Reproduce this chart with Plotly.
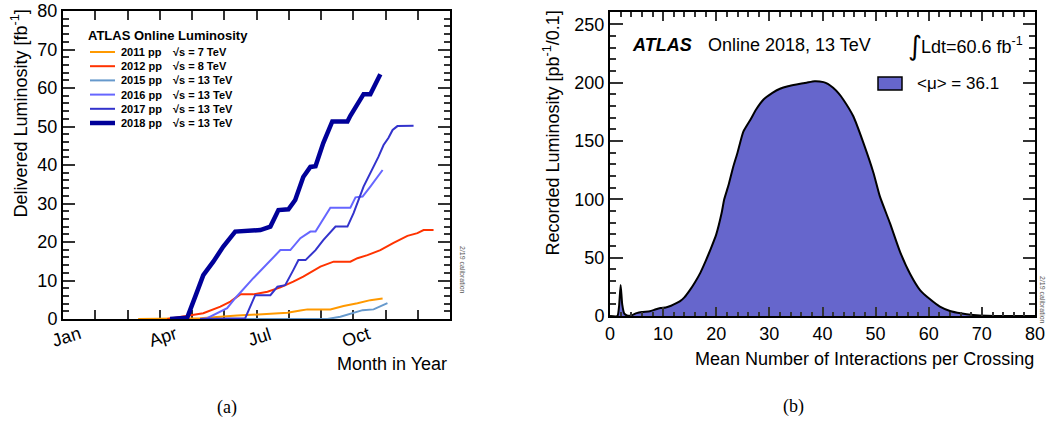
import plotly.graph_objects as go

# ---------------- data: left panel (cumulative delivered luminosity) ----------------
# x in fractional months since Jan 1, y in fb^-1
months_2011 = [2.33, 4.25, 5.40, 6.43, 6.96, 7.36, 7.58, 8.29, 8.70, 9.13, 9.53, 9.91]
lumi_2011 = [0.0, 0.2, 0.9, 1.3, 1.6, 2.2, 2.5, 2.5, 3.4, 4.1, 4.9, 5.3]

months_2012 = [3.23, 3.73, 4.35, 4.88, 5.19, 5.50, 5.90, 6.34, 6.74, 7.14, 7.45, 7.98,
               8.39, 8.91, 9.13, 9.44, 9.84, 10.25, 10.68, 10.99, 11.18, 11.49]
lumi_2012 = [0.0, 0.6, 1.5, 3.2, 4.5, 6.4, 6.4, 7.1, 8.2, 9.7, 11.0, 13.6,
             14.9, 14.9, 15.8, 16.6, 17.9, 19.8, 21.6, 22.3, 23.1, 23.1]

months_2015 = [5.19, 8.20, 8.60, 8.91, 9.29, 9.63, 9.84, 10.06]
lumi_2015 = [0.0, 0.0, 0.6, 1.3, 2.3, 2.5, 3.2, 4.1]

months_2016 = [4.25, 4.47, 5.09, 5.34, 5.90, 6.34, 6.74, 7.05, 7.36, 7.67, 7.83, 8.29,
               8.91, 9.07, 9.29, 9.53, 9.91]
lumi_2016 = [0.0, 0.2, 2.8, 5.4, 10.6, 14.5, 17.9, 17.9, 21.0, 22.7, 22.7, 28.9,
             28.9, 31.6, 31.8, 34.4, 38.7]

months_2017 = [4.25, 5.65, 5.96, 6.43, 6.65, 6.89, 7.14, 7.30, 7.52, 7.83, 8.07, 8.45,
               8.82, 9.01, 9.32, 9.53, 9.78, 9.94, 10.09, 10.22, 10.37, 10.87]
lumi_2017 = [0.0, 0.2, 6.2, 6.2, 8.4, 8.8, 12.7, 15.3, 15.3, 17.9, 20.5, 24.0,
             24.0, 27.5, 34.4, 37.8, 42.1, 45.2, 47.0, 49.1, 50.1, 50.2]

months_2018 = [3.32, 3.85, 4.10, 4.35, 4.66, 4.97, 5.34, 6.12, 6.43, 6.68, 6.99, 7.20,
               7.45, 7.67, 7.83, 8.07, 8.35, 8.82, 8.91, 9.13, 9.32, 9.53, 9.84]
lumi_2018 = [0.0, 0.3, 5.8, 11.4, 14.9, 18.8, 22.7, 23.1, 24.0, 28.3, 28.5, 30.9,
             36.9, 39.5, 39.7, 45.7, 51.3, 51.3, 52.8, 56.0, 58.4, 58.4, 63.6]

years = ["2011", "2012", "2015", "2016", "2017", "2018"]
energies = ["7", "8", "13", "13", "13", "13"]
series_months = [months_2011, months_2012, months_2015, months_2016, months_2017, months_2018]
series_lumi = [lumi_2011, lumi_2012, lumi_2015, lumi_2016, lumi_2017, lumi_2018]
colors = ["#FF9900", "#FF3300", "#6699CC", "#6666FF", "#3333CC", "#000099"]
widths = [2, 2, 2, 2, 2, 4.5]

month_tick_vals = [0, 3, 6, 9]
month_tick_text = ["Jan", "Apr", "Jul", "Oct"]

# ---------------- data: right panel (pile-up distribution) ----------------
mu_values = [0, 1.4, 1.7, 2.0, 2.3, 2.7, 3.2, 4.0, 5.0, 6.0, 7.5, 8.5, 9.5, 10.5, 11.5,
             12.5, 13.2, 14.0, 15.0, 16.0, 17.0, 18.0, 19.0, 20.0, 21.0, 21.5, 22.3,
             23.2, 24.0, 25.1, 26.4, 27.5, 28.9, 30.5, 32.0, 33.5, 35.1, 37.0, 38.5,
             40.2, 41.0, 42.0, 43.0, 43.9, 45.8, 47.7, 49.6, 50.8, 52.7, 54.6, 56.5,
             58.4, 60.2, 62.1, 64.0, 66.0, 68.4, 71.0, 75.0, 80.0]
mu_lumi = [0, 0, 8, 26.6, 10, 2, 0.5, 0.5, 2.5, 3.5, 4.0, 5.5, 6.8, 7.3, 8.8,
           11, 12.8, 16, 22, 29, 37, 47, 58, 70, 88, 100, 112,
           128, 140, 158, 168, 177, 185.6, 191, 194.8, 197, 198.5, 200, 201.3,
           200.5, 199, 195.6, 191, 185.6, 171.2, 148.4, 122.6, 102.5, 79.6, 55, 36,
           22, 14.5, 8, 4.3, 2.3, 0.9, 0.2, 0, 0]
mean_mu_label = "&lt;μ&gt; = 36.1"
int_lumi_label = "Ldt=60.6 fb<sup>-1</sup>"

# ---------------- figure ----------------
W, H = 1046, 421
FONT = "Liberation Sans, Arial, Helvetica, sans-serif"
SERIF = "Liberation Serif, Times New Roman, serif"


def px(p):
    return p / W


def py(p):
    return 1 - p / H


fig = go.Figure()

for yr, mx, ly, c, w in zip(years, series_months, series_lumi, colors, widths):
    fig.add_trace(go.Scatter(x=mx, y=ly, mode="lines", line=dict(color=c, width=w),
                             name=yr, showlegend=False, xaxis="x", yaxis="y"))

fig.add_trace(go.Scatter(x=mu_values, y=mu_lumi, mode="lines", fill="tozeroy",
                         fillcolor="#6666CC", line=dict(color="black", width=2,
                                                         shape="spline", smoothing=0.5),
                         showlegend=False, xaxis="x2", yaxis="y2"))

axis_common = dict(showline=True, linecolor="black", linewidth=2, mirror="allticks",
                   ticks="inside", tickcolor="#333", tickwidth=1.5, showgrid=False,
                   zeroline=False, tickfont=dict(family=FONT, size=18, color="black"))

fig.update_layout(
    width=W, height=H, autosize=False,
    margin=dict(l=0, r=0, t=0, b=0, autoexpand=False),
    paper_bgcolor="white", plot_bgcolor="white",
    font=dict(family=FONT, color="black"),
    xaxis=dict(domain=[px(63), px(450)], range=[0, 12], anchor="y",
               tickvals=list(range(13)), ticklen=9, showticklabels=False,
               layer="below traces", **axis_common),
    yaxis=dict(domain=[py(319), py(11)], range=[0, 80], anchor="x", tick0=0, dtick=10,
               ticklen=12, layer="below traces",
               minor=dict(dtick=2, ticklen=6, ticks="inside", tickcolor="#333", tickwidth=1.5),
               **axis_common),
    xaxis2=dict(domain=[px(610), px(1035)], range=[0, 80], anchor="y2", tick0=0, dtick=10,
                ticklen=9,
                minor=dict(dtick=2, ticklen=4.5, ticks="inside", tickcolor="#333", tickwidth=1.5),
                **axis_common),
    yaxis2=dict(domain=[py(316), py(12)], range=[0, 260.6], anchor="x2", tick0=0, dtick=50,
                ticklen=12.5,
                minor=dict(dtick=10, ticklen=6, ticks="inside", tickcolor="#333", tickwidth=1.5),
                **axis_common),
)

ann = []
shapes = []


def label(x, y, text, size=18, family=FONT, xanchor="center", yanchor="middle",
          angle=0, color="black", xref="paper"):
    ann.append(dict(x=x, y=y, xref=xref, yref="paper", text=text, showarrow=False,
                    textangle=angle, font=dict(size=size, family=family, color=color),
                    xanchor=xanchor, yanchor=yanchor))


# month labels (rotated)
for v, t in zip(month_tick_vals, month_tick_text):
    label(v + 0.1, py(337), t, angle=-18, xref="x")

# axis titles
label(px(20), py(113.5), "Delivered Luminosity [fb<sup>-1</sup>]", angle=-90)
label(px(449), py(364), "Month in Year", xanchor="right")
label(px(552), py(133.5), "Recorded Luminosity [pb<sup>-1</sup>/0.1]", angle=-90)
label(px(1036), py(359), "Mean Number of Interactions per Crossing", xanchor="right")

# panel labels
label(px(227), py(407), "(a)", family=SERIF)
label(px(793), py(406), "(b)", family=SERIF)

# calibration notes
label(px(463), py(270), "2/19 calibration", size=7, angle=90, color="#555")
label(px(1043), py(300), "2/19 calibration", size=7, angle=90, color="#555")

# left legend
label(px(86), py(35), "<b>ATLAS Online Luminosity</b>", size=13, xanchor="left")
for i, (yr, en, c, w) in enumerate(zip(years, energies, colors, widths)):
    yc = 52 + i * 14.2
    shapes.append(dict(type="line", xref="paper", yref="paper", x0=px(90), x1=px(115),
                       y0=py(yc), y1=py(yc), line=dict(color=c, width=w)))
    label(px(119), py(yc), "<b>%s pp</b>" % yr, size=11, xanchor="left")
    label(px(171), py(yc), "<b>√s = %s TeV</b>" % en, size=11, xanchor="left")

# right panel texts
label(px(630), py(45), "<b><i>ATLAS</i></b>", xanchor="left")
label(px(706), py(45), "Online 2018, 13 TeV", xanchor="left")
label(px(914.5), py(45), "∫", size=27, family="DejaVu Sans")
label(px(918.5), py(45), int_lumi_label, xanchor="left")
shapes.append(dict(type="rect", xref="paper", yref="paper", x0=px(878), x1=px(902),
                   y0=py(90), y1=py(77), fillcolor="#6666CC", line=dict(color="black", width=1.5)))
label(px(915), py(83), mean_mu_label, size=17, xanchor="left")

fig.update_layout(annotations=ann, shapes=shapes)

fig.write_html("out.html",
               config={"displayModeBar": False, "responsive": False},
               post_script="document.body.style.margin='0px';document.body.style.overflow='hidden';")
